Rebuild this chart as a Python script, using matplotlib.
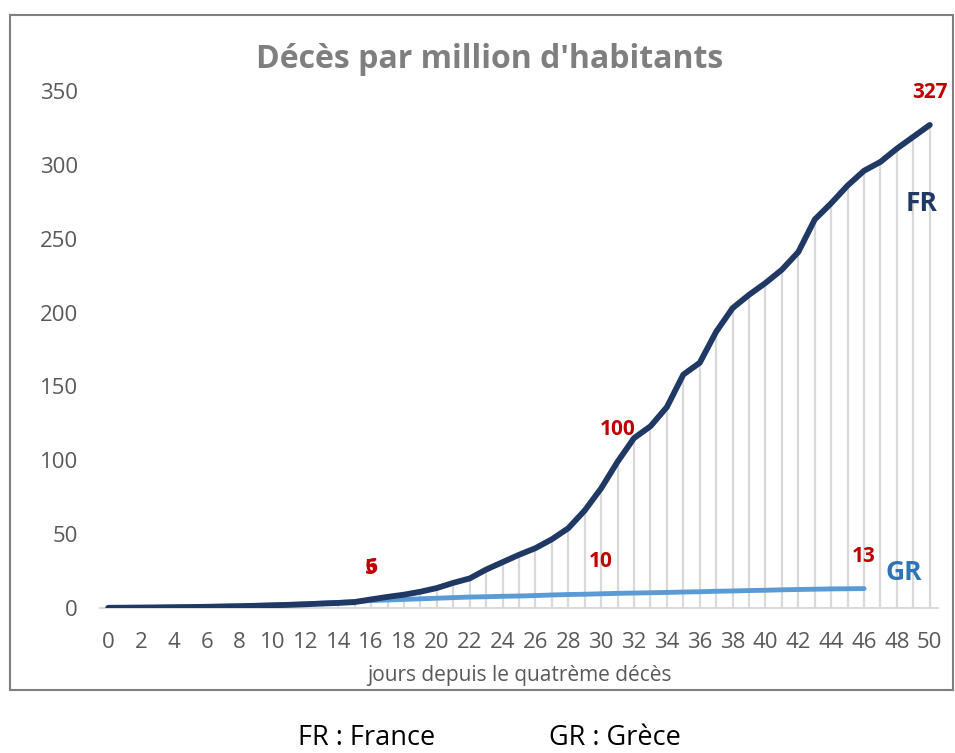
import matplotlib
matplotlib.use("Agg")
import matplotlib.pyplot as plt
from matplotlib.patches import Rectangle

plt.rcParams['font.family'] = ['Open Sans', 'DejaVu Sans']

# deaths per million inhabitants, days since the fourth death
fr_days = list(range(0, 51))
fr_values = [0.1, 0.2, 0.3, 0.4, 0.5, 0.6, 0.8, 1.0, 1.2, 1.5,
             1.8, 2.1, 2.5, 3.0, 3.4, 4.0, 5.8, 7.5, 9.0, 11,
             13.5, 17, 20, 26, 31, 36, 40.5, 46.5, 54, 66,
             81, 99, 115, 123, 136, 158, 166, 187, 203, 212,
             220, 229, 241, 263, 274, 286, 296, 302, 311, 319,
             327]
gr_days = list(range(0, 47))
gr_values = [0.1, 0.2, 0.3, 0.4, 0.6, 0.8, 1.0, 1.2, 1.4, 1.7,
             2.0, 2.4, 2.8, 3.2, 3.7, 4.3, 5.0, 5.4, 5.8, 6.2,
             6.6, 7.0, 7.4, 7.6, 7.9, 8.1, 8.4, 8.8, 9.1, 9.3,
             9.6, 9.9, 10.1, 10.3, 10.5, 10.8, 11.0, 11.3, 11.5, 11.8,
             12.0, 12.3, 12.5, 12.7, 12.9, 13.0, 13.1]

# value labels shown on the chart
fr_label_days = [16, 31, 50]
fr_label_text = ['6', '100', '327']
gr_label_days = [16, 30, 46]
gr_label_text = ['5', '10', '13']

x_ticks = list(range(0, 51, 2))
y_ticks = list(range(0, 351, 50))

fr_color = '#1F3864'
gr_color = '#5B9BD5'
red = '#C00000'
grey_txt = '#595959'

fig = plt.figure(figsize=(9.55, 7.53), dpi=100)
ax = fig.add_axes([0.1047, 0.1926, 0.8775, 0.6866])

# chart border
fig.patches.append(Rectangle((10 / 955, 1 - 690 / 753), 943 / 955, 675 / 753,
                             transform=fig.transFigure, fill=False,
                             edgecolor='#7f7f7f', lw=1.5))

# drop lines
ax.vlines(fr_days, 0, fr_values, color='#d9d9d9', lw=1.6, zorder=1)

ax.plot(gr_days, gr_values, color=gr_color, lw=3.5, solid_capstyle='round', zorder=3)
ax.plot(fr_days, fr_values, color=fr_color, lw=4.2, solid_capstyle='round', zorder=4)

for d, t in zip(gr_label_days, gr_label_text):
    ax.annotate(t, (d, gr_values[d]), xytext=(0, 23), textcoords='offset points',
                ha='center', va='center', color=red, fontsize=15, fontweight='bold')
for d, t in zip(fr_label_days, fr_label_text):
    ax.annotate(t, (d, fr_values[d]), xytext=(0, 23), textcoords='offset points',
                ha='center', va='center', color=red, fontsize=15, fontweight='bold')

ax.text(49.5, 274, 'FR', color=fr_color, fontsize=19, fontweight='bold',
        ha='center', va='center')
ax.text(48.4, 24, 'GR', color='#2E75B6', fontsize=19, fontweight='bold',
        ha='center', va='center')

ax.set_xlim(-0.5, 50.5)
ax.set_ylim(0, 350)
ax.set_xticks(x_ticks)
ax.set_yticks(y_ticks)
ax.tick_params(axis='both', length=0, labelsize=16, labelcolor=grey_txt)
ax.tick_params(axis='y', pad=16)
ax.tick_params(axis='x', pad=17)
for s in ['top', 'right', 'left']:
    ax.spines[s].set_visible(False)
ax.spines['bottom'].set_color('#d9d9d9')
ax.spines['bottom'].set_linewidth(1.5)

ax.set_xlabel('jours depuis le quatrème décès', fontsize=15, color=grey_txt, labelpad=9)

fig.text(490 / 955, 1 - 60 / 753, "Décès par million d'habitants", ha='center', va='center',
         fontsize=23, fontweight='bold', color='#7f7f7f')

fig.text(367 / 955, 1 - 745 / 753, 'FR : France', ha='center', va='baseline',
         fontsize=19.5, color='black')
fig.text(615 / 955, 1 - 745 / 753, 'GR : Grèce', ha='center', va='baseline',
         fontsize=19.5, color='black')

fig.savefig('out.png', dpi=100)
